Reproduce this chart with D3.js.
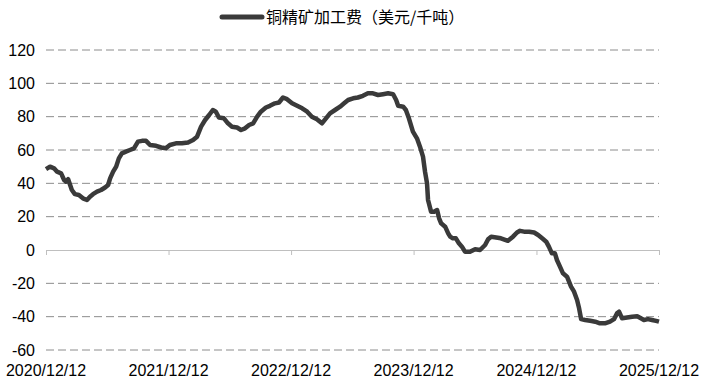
<!DOCTYPE html>
<html>
<head>
<meta charset="utf-8">
<script src="https://cdn.jsdelivr.net/npm/d3@7"></script>
<style>
  body { margin: 0; background: #fff; }
  text { font-family: "Liberation Sans", Arial, sans-serif; fill: #000; }
</style>
</head>
<body>
<div id="chart"></div>
<script>
// 铜精矿加工费 weekly readings
var seriesName = "铜精矿加工费（美元/千吨）";
var dates = [
  "2020-12-12","2020-12-24","2021-01-05","2021-01-14","2021-01-26","2021-02-04","2021-02-10","2021-02-16",
  "2021-02-27","2021-03-08","2021-03-20","2021-04-01","2021-04-13","2021-04-22","2021-05-01","2021-05-13",
  "2021-05-25","2021-06-06","2021-06-15","2021-06-21","2021-06-30","2021-07-09","2021-07-17","2021-07-26",
  "2021-08-07","2021-08-19","2021-08-31","2021-09-12","2021-09-24","2021-10-06","2021-10-18","2021-11-05",
  "2021-11-20","2021-12-04","2021-12-16","2022-01-03","2022-01-21","2022-02-08","2022-02-23","2022-03-07",
  "2022-03-19","2022-03-31","2022-04-12","2022-04-23","2022-05-02","2022-05-11","2022-05-26","2022-06-07",
  "2022-06-19","2022-07-04","2022-07-16","2022-07-28","2022-08-09","2022-08-21","2022-09-02","2022-09-13",
  "2022-09-28","2022-10-10","2022-10-25","2022-11-06","2022-11-18","2022-11-30","2022-12-15","2022-12-30",
  "2023-01-14","2023-01-29","2023-02-12","2023-02-27","2023-03-14","2023-03-26","2023-04-07","2023-04-22",
  "2023-05-07","2023-05-19","2023-05-31","2023-06-15","2023-06-29","2023-07-14","2023-07-29","2023-08-13",
  "2023-08-28","2023-09-12","2023-09-27","2023-10-12","2023-10-21","2023-10-27","2023-11-11","2023-11-19",
  "2023-11-28","2023-12-10","2023-12-22","2023-12-31","2024-01-09","2024-01-15","2024-01-21","2024-01-24",
  "2024-02-02","2024-02-11","2024-02-20","2024-02-26","2024-03-03","2024-03-15","2024-03-24","2024-03-30",
  "2024-04-07","2024-04-16","2024-04-25","2024-05-04","2024-05-13","2024-05-28","2024-06-12","2024-06-27",
  "2024-07-12","2024-07-21","2024-07-30","2024-08-14","2024-08-28","2024-09-18","2024-10-03","2024-10-15",
  "2024-10-24","2024-11-05","2024-11-20","2024-12-05","2024-12-17","2024-12-29","2025-01-10","2025-01-18",
  "2025-01-27","2025-02-05","2025-02-11","2025-02-20","2025-03-01","2025-03-13","2025-03-25","2025-04-03",
  "2025-04-12","2025-04-18","2025-04-24","2025-05-06","2025-05-21","2025-06-05","2025-06-19","2025-07-04",
  "2025-07-19","2025-07-31","2025-08-09","2025-08-15","2025-08-24","2025-09-08","2025-09-23","2025-10-08",
  "2025-10-19","2025-10-28","2025-11-09","2025-11-21","2025-12-03","2025-12-12"
];
var values = [
  48.5, 50, 49, 47, 46, 42, 41, 42.5,
  36, 33.5, 33, 31, 30, 32, 33.5, 35,
  36, 37.5, 39, 43, 47, 50, 55, 58,
  59, 60, 61, 65, 65.5, 65.5, 63, 62.5,
  61.5, 61, 63, 64, 64, 64.5, 66, 68,
  74, 78, 81, 84, 83, 79.5, 79, 76,
  74, 73.5, 72, 73, 75, 76, 80, 83,
  85.5, 86.5, 88, 88.5, 91.5, 90.5, 88, 86.5,
  85, 83, 80, 78.5, 76, 79, 82, 84,
  86, 88, 90, 91, 91.5, 92.5, 94, 94,
  93, 93.5, 94, 93.5, 90, 86.5, 86, 84,
  79, 71, 67, 62, 56, 47, 40, 30,
  23, 23, 24, 19, 16, 14, 10, 8,
  7, 7, 4, 2, -1, -1, 0.5, 0,
  3, 6.5, 8, 7.5, 7, 5.5, 8, 10.5,
  11.5, 11, 11, 10.5, 9, 7, 5, 2,
  -2, -2, -6, -10, -14, -16, -22, -25,
  -30, -35, -41.5, -42, -42.5, -43, -44, -44,
  -43, -41.5, -38, -37, -41, -40.5, -40, -39.8,
  -41, -42, -41.5, -42, -42.5, -43
];
var tickDates = ["2020-12-12","2021-12-12","2022-12-12","2023-12-12","2024-12-12","2025-12-12"];
var yTicks = [-60, -40, -20, 0, 20, 40, 60, 80, 100, 120];

var width = 707, height = 390;
var margin = {left: 46, right: 48, top: 50, bottom: 40};
var parse = d3.timeParse("%Y-%m-%d");
var fmt = d3.timeFormat("%Y/%m/%d");

var data = dates.map(function(d, i) { return {date: parse(d), value: values[i]}; });

var svg = d3.select("#chart").append("svg")
  .attr("width", width).attr("height", height);

var x = d3.scaleTime()
  .domain([parse(tickDates[0]), parse(tickDates[tickDates.length - 1])])
  .range([margin.left, width - margin.right]);
var y = d3.scaleLinear()
  .domain([-60, 120])
  .range([height - margin.bottom, margin.top]);

// dashed gridlines (0 is the axis line)
svg.append("g").selectAll("line")
  .data(yTicks.filter(function(t) { return t != 0; }))
  .enter().append("line")
  .attr("x1", margin.left).attr("x2", width - margin.right)
  .attr("y1", function(d) { return y(d); }).attr("y2", function(d) { return y(d); })
  .attr("stroke", "#8c8c8c")
  .attr("stroke-width", 1)
  .attr("stroke-dasharray", "8,4");

// y labels
svg.append("g").selectAll("text")
  .data(yTicks)
  .enter().append("text")
  .attr("x", 35)
  .attr("y", function(d) { return y(d); })
  .attr("dy", "0.35em")
  .style("text-anchor", "end")
  .style("font-size", "16px")
  .text(function(d) { return d; });

// zero axis with year ticks
var xAxis = d3.axisBottom(x)
  .tickValues(tickDates.map(parse))
  .tickSize(5)
  .tickFormat("");
var ax = svg.append("g")
  .attr("transform", "translate(0," + y(0) + ")")
  .call(xAxis);
ax.select(".domain").attr("stroke", "#bfbfbf").attr("d", "M" + margin.left + ",0.5H" + (width - margin.right));
ax.selectAll(".tick line").attr("stroke", "#bfbfbf");

// x labels at the bottom
svg.append("g").selectAll("text")
  .data(tickDates)
  .enter().append("text")
  .attr("x", function(d) { return x(parse(d)); })
  .attr("y", 376)
  .style("text-anchor", "middle")
  .style("font-size", "16px")
  .text(function(d) { return fmt(parse(d)); });

// the line
var line = d3.line()
  .x(function(d) { return x(d.date); })
  .y(function(d) { return y(d.value); });
svg.append("path")
  .datum(data)
  .attr("fill", "none")
  .attr("stroke", "#3a3a3a")
  .attr("stroke-width", 4.5)
  .attr("stroke-linejoin", "round")
  .attr("d", line);

// legend
var lg = svg.append("g");
lg.append("line")
  .attr("x1", 222).attr("x2", 262)
  .attr("y1", 17).attr("y2", 17)
  .attr("stroke", "#3a3a3a")
  .attr("stroke-width", 5)
  .attr("stroke-linecap", "round");
lg.append("text")
  .attr("x", 266).attr("y", 17)
  .attr("dy", "0.35em")
  .style("font-family", "'Noto Sans CJK SC', sans-serif")
  .style("font-size", "16px")
  .text(seriesName);
</script>
</body>
</html>
